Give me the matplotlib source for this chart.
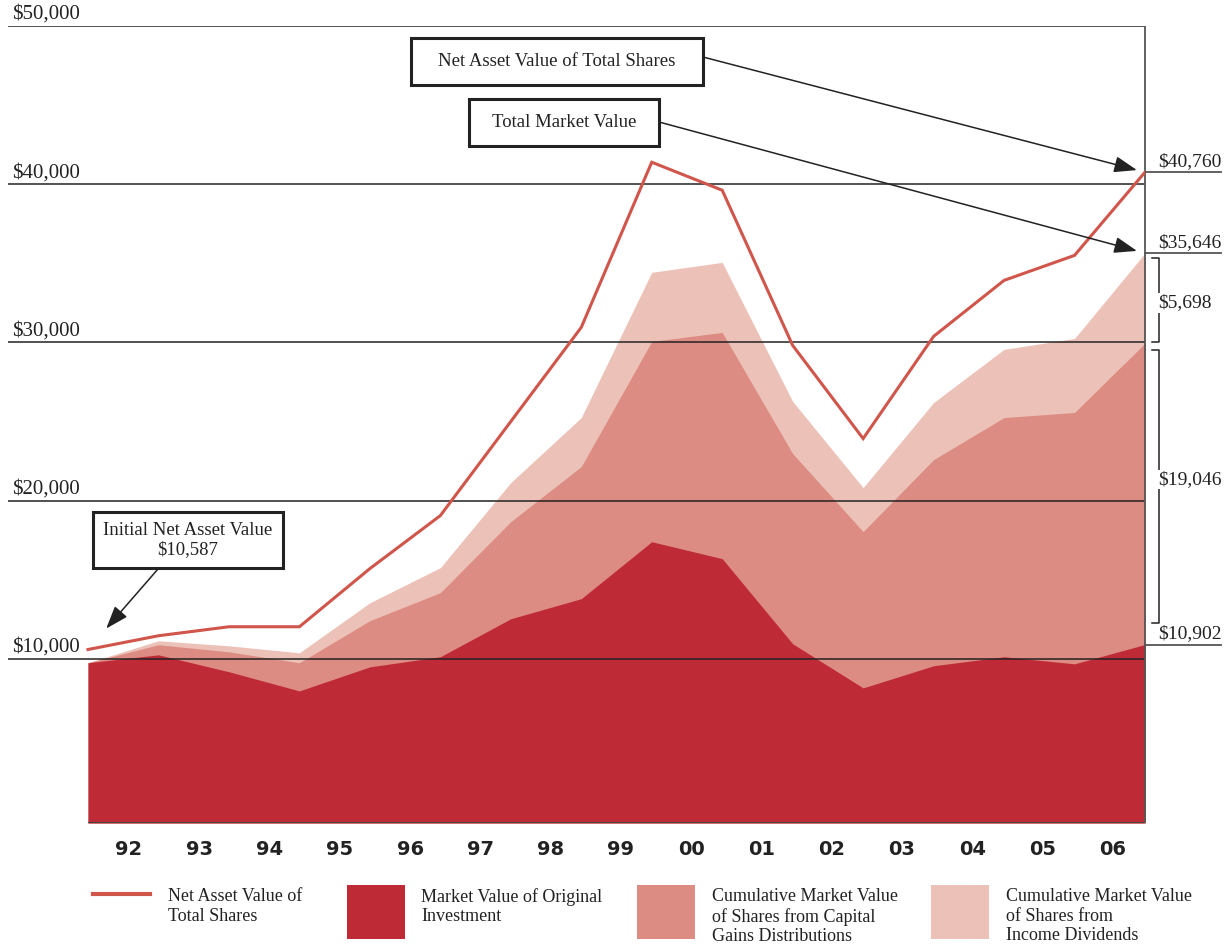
import matplotlib
matplotlib.use("Agg")
import matplotlib.pyplot as plt
from matplotlib.patches import Rectangle
from matplotlib.lines import Line2D

# data (dollar values at each year end, first point = start)
years = ["92", "93", "94", "95", "96", "97", "98", "99", "00", "01", "02", "03", "04", "05", "06"]
nav_total = [10587, 11456, 12025, 12025, 15700, 19050, 25000, 30950, 41390, 39620,
             29810, 23920, 30380, 33920, 35500, 40760]
market_total = [9750, 11140, 10820, 10380, 13540, 15760, 21140, 25250, 34430, 35060,
                26270, 20820, 26200, 29560, 30250, 35646]
capital_gains_cum = [9750, 10890, 10440, 9750, 12410, 14180, 18670, 22150, 30060, 30630,
                     22970, 18040, 22590, 25250, 25570, 29948]
original_inv = [9750, 10250, 9180, 7970, 9490, 10130, 12530, 13800, 17400, 16330,
                10950, 8160, 9560, 10130, 9680, 10902]
grid_values = [10000, 20000, 30000, 40000, 50000]
legend_labels = [
    "Net Asset Value of\nTotal Shares",
    "Market Value of Original\nInvestment",
    "Cumulative Market Value\nof Shares from Capital\nGains Distributions",
    "Cumulative Market Value\nof Shares from\nIncome Dividends",
]

C_DARK = "#BE2A36"
C_MID = "#DC8C82"
C_LIGHT = "#ECC2B8"
C_LINE = "#D0554B"
C_INK = "#222222"
SERIF = ["Liberation Serif", "DejaVu Serif"]

W, H = 1229, 944


def fx(px):
    return px / W


def fy(py):
    return 1 - py / H


fig = plt.figure(figsize=(W / 100, H / 100), dpi=100)
ax = fig.add_axes([fx(8), fy(823), (1145 - 8) / W, (823 - 26) / H])

x_step = (1145 - 88) / 15
xmin = (8 - 88) / x_step
ybot = -380
xs = list(range(len(nav_total)))
xend = xs[-1]

ax.set_xlim(xmin, xend)
ax.set_ylim(ybot, 50000)
for s in ax.spines.values():
    s.set_visible(False)

ax.fill_between(xs, ybot, market_total, color=C_LIGHT, lw=0, zorder=1)
ax.fill_between(xs, ybot, capital_gains_cum, color=C_MID, lw=0, zorder=1.1)
ax.fill_between(xs, ybot, original_inv, color=C_DARK, lw=0, zorder=1.2)

ax.hlines(grid_values, xmin, xend, color=C_INK, lw=1.1, zorder=3)
ax.hlines(ybot, 0, xend, color="#444444", lw=1.4, zorder=3)
ax.vlines(xend, ybot, 50000, color="#555555", lw=1.3, zorder=4, clip_on=False)

ax.plot(xs, nav_total, color=C_LINE, lw=2.2, zorder=5, solid_joinstyle="miter")

for v in grid_values:
    ax.annotate(f"${v:,}", xy=(xmin, v), xytext=(4, 2), textcoords="offset pixels",
                ha="left", va="bottom", fontsize=15, family=SERIF, color=C_INK)

# year labels sit between the year-end points (slightly tighter spacing in the original)
label_step = 13.96 / 14
ax.set_xticks([0.582 + i * label_step for i in range(len(years))])
ax.set_xticklabels(years, fontsize=14, fontweight="bold", family="DejaVu Sans", color=C_INK)
ax.tick_params(axis="x", length=0, pad=12)
ax.set_yticks([])

# right-hand end values
nav_end = nav_total[-1]
mkt_end = market_total[-1]
cap_end = capital_gains_cum[-1]
orig_end = original_inv[-1]
for v in (nav_end, mkt_end, orig_end):
    ax.plot([xend, xend + 76 / x_step], [v, v], color="#555555", lw=1.3, clip_on=False, zorder=4)
    ax.annotate(f"${v:,}", xy=(xend, v), xytext=(13, 2), textcoords="offset pixels",
                ha="left", va="bottom", fontsize=14, family=SERIF, color=C_INK,
                annotation_clip=False)

bx = xend + 14 / x_step
tx = xend + 7 / x_step
brackets = [
    (mkt_end - 330, cap_end + 60, mkt_end - cap_end, -150),
    (cap_end - 400, orig_end + 1380, cap_end - orig_end, 420),
]
for top, bottom, diff, shift in brackets:
    ax.plot([tx, bx, bx, tx], [top, top, bottom, bottom], color=C_INK, lw=1.1,
            clip_on=False, zorder=4)
    ax.text(xend + 13 / x_step, (top + bottom) / 2 + shift, f"${diff:,}", ha="left", va="center",
            fontsize=14, family=SERIF, color=C_INK, clip_on=False, zorder=5,
            bbox=dict(facecolor="white", edgecolor="none", pad=1))


# boxed callouts
def callout(x0, y0, x1, y1, text, fontsize):
    fig.patches.append(Rectangle((fx(x0), fy(y1)), (x1 - x0) / W, (y1 - y0) / H,
                                 transform=fig.transFigure, facecolor="white",
                                 edgecolor=C_INK, lw=2.2, zorder=6))
    fig.text(fx((x0 + x1) / 2), fy((y0 + y1) / 2), text, ha="center", va="center",
             fontsize=fontsize, family=SERIF, color=C_INK, zorder=7, linespacing=1.2)


arrow = dict(arrowstyle="-|>,head_length=0.7,head_width=0.25", color=C_INK, lw=1.1,
             mutation_scale=20, shrinkA=0, shrinkB=6)

callout(411, 38, 703, 85, "Net Asset Value of Total Shares", 13.5)
ax.annotate("", xy=(xend, nav_end), xytext=(fx(703), fy(57)), textcoords="figure fraction",
            arrowprops=arrow, annotation_clip=False, zorder=6)

callout(469, 99, 659, 146, "Total Market Value", 13.5)
ax.annotate("", xy=(xend, mkt_end), xytext=(fx(659), fy(122)), textcoords="figure fraction",
            arrowprops=arrow, annotation_clip=False, zorder=6)

callout(93, 512, 283, 568, f"Initial Net Asset Value\n${nav_total[0]:,}", 13.5)
ax.annotate("", xy=(0, nav_total[0]), xytext=(fx(158), fy(569)), textcoords="figure fraction",
            arrowprops=dict(arrow, shrinkB=20), annotation_clip=False, zorder=6)

# legend
fig.lines.append(Line2D([fx(93), fx(150)], [fy(894), fy(894)], transform=fig.transFigure,
                        color=C_LINE, lw=3))
for px, color in zip([347, 637, 931], [C_DARK, C_MID, C_LIGHT]):
    fig.patches.append(Rectangle((fx(px), fy(939)), 58 / W, 54 / H,
                                 transform=fig.transFigure, facecolor=color, edgecolor="none"))
for px, label in zip([168, 421, 712, 1006], legend_labels):
    fig.text(fx(px), fy(888), label, ha="left", va="top", fontsize=13, family=SERIF,
             color=C_INK, linespacing=1.2)

fig.savefig("out.png", dpi=100)
